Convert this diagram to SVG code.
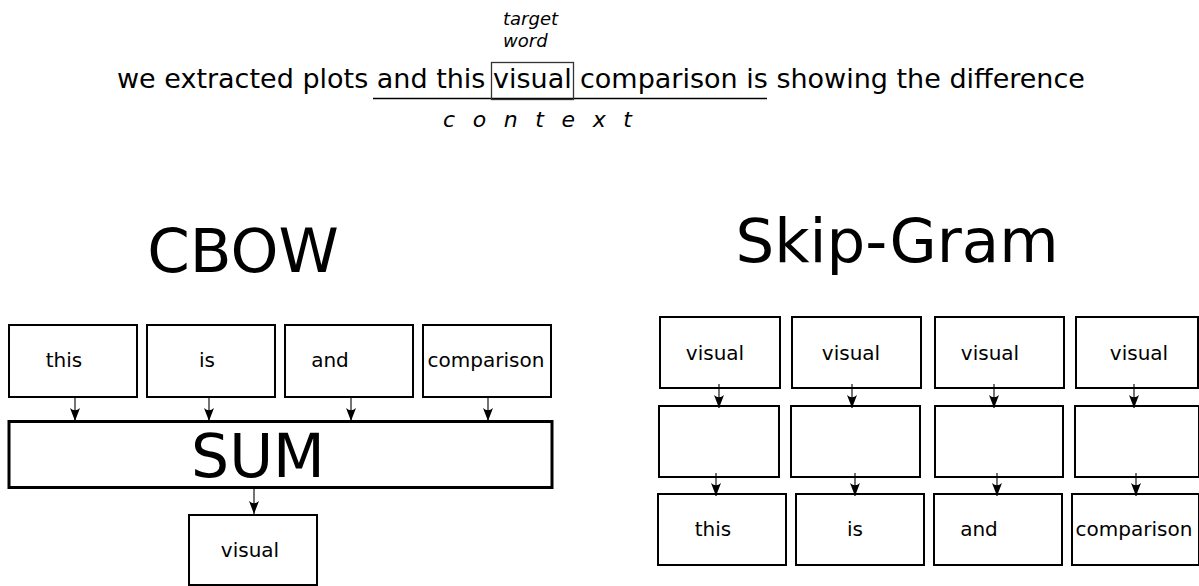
<svg xmlns="http://www.w3.org/2000/svg" width="1199" height="586" viewBox="0 0 1199 586">
<defs>
<style>
text{font-family:"DejaVu Sans","Liberation Sans",sans-serif;fill:#000}
.box{fill:#fff;stroke:#000;stroke-width:2}
.sum{fill:#fff;stroke:#000;stroke-width:3}
.lbl{font-size:20px;text-anchor:middle}
.title{font-size:61px;text-anchor:middle}
.con{stroke:#000;stroke-width:1.1;fill:none;marker-end:url(#ah)}
.it{font-style:italic}
</style>
<marker id="ah" markerUnits="userSpaceOnUse" markerWidth="16" markerHeight="14" viewBox="-14 -7 16 14" refX="0" refY="0" orient="auto">
<path d="M0,0 L-13,-5 Q-8.5,0 -13,5 Z" fill="#000"/>
</marker>
</defs>
<rect width="1199" height="586" fill="#fff"/>

<g id="sentence">
<text y="88" style="font-size:27px"><tspan x="117">we extracted plots and this</tspan><tspan x="493">visual</tspan><tspan x="580">comparison is showing the difference</tspan></text>
<line x1="373" y1="98.5" x2="767" y2="98.5" stroke="#000" stroke-width="1.5"/>
<rect x="491.5" y="62.5" width="82" height="37" fill="none" stroke="#333" stroke-width="1.3"/>
<text class="it" x="503" y="25" style="font-size:18px">target</text>
<text class="it" x="503" y="47" style="font-size:18px">word</text>
<text class="it" x="443" y="127" style="font-size:22px;letter-spacing:5.3px">c o n t e x t</text>
</g>

<g id="cbow-title"><text class="title" x="243" y="272">CBOW</text></g>
<g id="skipgram-title"><text class="title" x="897" y="262">Skip-Gram</text></g>

<g id="cbow-this"><rect class="box" x="9" y="325" width="128" height="72"/><text class="lbl" x="64" y="367">this</text></g>
<g id="cbow-is"><rect class="box" x="147" y="325" width="128" height="72"/><text class="lbl" x="207" y="367">is</text></g>
<g id="cbow-and"><rect class="box" x="285" y="325" width="128" height="72"/><text class="lbl" x="330" y="367">and</text></g>
<g id="cbow-comparison"><rect class="box" x="423" y="325" width="128" height="72"/><text class="lbl" x="486" y="367">comparison</text></g>
<g id="cbow-sum"><rect class="sum" x="9" y="421.5" width="543" height="66"/><text x="258" y="477" style="font-size:60px;text-anchor:middle">SUM</text></g>
<g id="cbow-visual"><rect class="box" x="189" y="515" width="128" height="70"/><text class="lbl" x="250" y="557">visual</text></g>

<g id="sg-visual-1"><rect class="box" x="660" y="317" width="120" height="71"/><text class="lbl" x="715" y="360">visual</text></g>
<g id="sg-visual-2"><rect class="box" x="792" y="317" width="129" height="71"/><text class="lbl" x="851" y="360">visual</text></g>
<g id="sg-visual-3"><rect class="box" x="935" y="317" width="129" height="71"/><text class="lbl" x="990" y="360">visual</text></g>
<g id="sg-visual-4"><rect class="box" x="1076" y="317" width="122" height="71"/><text class="lbl" x="1139" y="360">visual</text></g>

<g id="sg-hidden-1"><rect class="box" x="659" y="406" width="120" height="71"/></g>
<g id="sg-hidden-2"><rect class="box" x="791" y="406" width="129" height="71"/></g>
<g id="sg-hidden-3"><rect class="box" x="935" y="406" width="128" height="71"/></g>
<g id="sg-hidden-4"><rect class="box" x="1075" y="406" width="124" height="71"/></g>

<g id="sg-this"><rect class="box" x="658" y="494" width="128" height="71"/><text class="lbl" x="713" y="536">this</text></g>
<g id="sg-is"><rect class="box" x="796" y="494" width="128" height="71"/><text class="lbl" x="855" y="536">is</text></g>
<g id="sg-and"><rect class="box" x="934" y="494" width="128" height="71"/><text class="lbl" x="979" y="536">and</text></g>
<g id="sg-comparison"><rect class="box" x="1072" y="494" width="127" height="71"/><text class="lbl" x="1134" y="536">comparison</text></g>

<g id="connectors">
<line class="con" x1="75" y1="398" x2="75" y2="421"/>
<line class="con" x1="209" y1="398" x2="209" y2="421"/>
<line class="con" x1="351" y1="398" x2="351" y2="421"/>
<line class="con" x1="488" y1="398" x2="488" y2="421"/>
<line class="con" x1="254" y1="489" x2="254" y2="514"/>
<line class="con" x1="719" y1="384" x2="719" y2="408"/>
<line class="con" x1="852" y1="384" x2="852" y2="408"/>
<line class="con" x1="994" y1="384" x2="994" y2="408"/>
<line class="con" x1="1134" y1="384" x2="1134" y2="408"/>
<line class="con" x1="716" y1="473" x2="716" y2="496"/>
<line class="con" x1="855" y1="473" x2="855" y2="496"/>
<line class="con" x1="997" y1="473" x2="997" y2="496"/>
<line class="con" x1="1136" y1="473" x2="1136" y2="496"/>
</g>
</svg>
